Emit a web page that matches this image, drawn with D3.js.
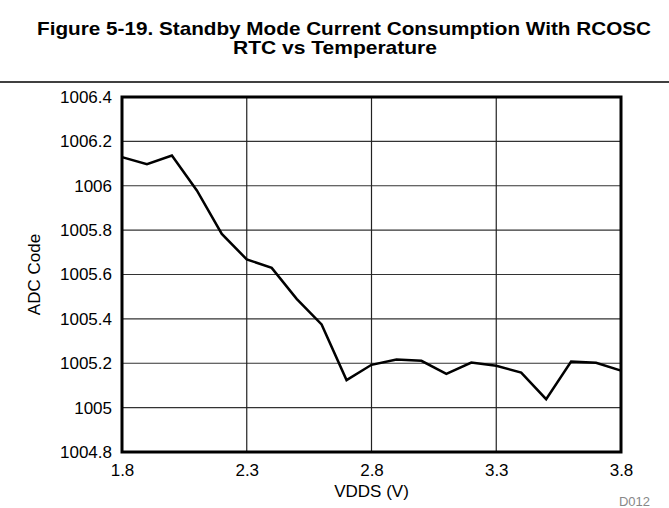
<!DOCTYPE html>
<html>
<head>
<meta charset="utf-8">
<script src="https://cdn.jsdelivr.net/npm/d3@7"></script>
<style>
  body { margin: 0; background: #fff; }
  svg { display: block; font-family: "Liberation Sans", Arial, sans-serif; }
</style>
</head>
<body>
<svg></svg>
<script>
var vdds = [1.8, 1.9, 2.0, 2.1, 2.2, 2.3, 2.4, 2.5, 2.6, 2.7, 2.8, 2.9, 3.0, 3.1, 3.2, 3.3, 3.4, 3.5, 3.6, 3.7, 3.8];
var adcCode = [1006.129, 1006.097, 1006.136, 1005.979, 1005.783, 1005.668, 1005.630, 1005.490, 1005.375, 1005.124,
               1005.193, 1005.217, 1005.211, 1005.152, 1005.203, 1005.189, 1005.158, 1005.038, 1005.208, 1005.202, 1005.167];
var xTicks = [1.8, 2.3, 2.8, 3.3, 3.8];
var yTicks = [1004.8, 1005, 1005.2, 1005.4, 1005.6, 1005.8, 1006, 1006.2, 1006.4];

var width = 669;
var height = 508;
var margin = {top: 97, right: 48, bottom: 56, left: 122};

var svg = d3.select('svg')
    .attr('width', width)
    .attr('height', height);

// title, two lines (narrow and tall like the original)
svg.append('text')
    .attr('x', 344).attr('y', 35)
    .attr('text-anchor', 'middle')
    .attr('font-size', 19).attr('font-weight', 'bold')
    .attr('textLength', 614).attr('lengthAdjust', 'spacingAndGlyphs')
    .text('Figure 5-19. Standby Mode Current Consumption With RCOSC');
svg.append('text')
    .attr('x', 335).attr('y', 54)
    .attr('text-anchor', 'middle')
    .attr('font-size', 19).attr('font-weight', 'bold')
    .attr('textLength', 204).attr('lengthAdjust', 'spacingAndGlyphs')
    .text('RTC vs Temperature');

svg.append('line')
    .attr('x1', 0).attr('x2', width)
    .attr('y1', 82).attr('y2', 82)
    .attr('stroke', '#000').attr('stroke-width', 1.5);

var x = d3.scaleLinear()
    .domain([1.8, 3.8])
    .range([margin.left, width - margin.right]);
var y = d3.scaleLinear()
    .domain([1004.8, 1006.4])
    .range([height - margin.bottom, margin.top]);

// grid lines
svg.append('g')
  .selectAll('line')
  .data(yTicks)
  .enter()
  .append('line')
    .attr('x1', x(1.8)).attr('x2', x(3.8))
    .attr('y1', d => y(d)).attr('y2', d => y(d))
    .attr('stroke', '#333').attr('stroke-width', 1.2);
svg.append('g')
  .selectAll('line')
  .data(xTicks)
  .enter()
  .append('line')
    .attr('x1', d => x(d)).attr('x2', d => x(d))
    .attr('y1', y(1004.8)).attr('y2', y(1006.4))
    .attr('stroke', '#222').attr('stroke-width', 1.2);

// axes, only used for the labels
var yAxis = svg.append('g')
    .attr('transform', 'translate(' + x(1.8) + ',0)')
    .call(d3.axisLeft(y).tickValues(yTicks).tickSize(0).tickPadding(10).tickFormat(d3.format('')));
var xAxis = svg.append('g')
    .attr('transform', 'translate(0,' + y(1004.8) + ')')
    .call(d3.axisBottom(x).tickValues(xTicks).tickSize(0).tickPadding(12).tickFormat(d3.format('')));
[yAxis, xAxis].forEach(function(a) {
    a.select('.domain').remove();
    a.selectAll('text').attr('font-size', 17).attr('font-family', '"Liberation Sans", Arial, sans-serif').attr('fill', '#000');
});

// the data line
var line = d3.line()
    .x((d, i) => x(vdds[i]))
    .y(d => y(d));
svg.append('path')
    .datum(adcCode)
    .attr('fill', 'none')
    .attr('stroke', '#000')
    .attr('stroke-width', 2.5)
    .attr('stroke-linejoin', 'miter')
    .attr('d', line);

// plot frame
svg.append('rect')
    .attr('x', x(1.8)).attr('y', y(1006.4))
    .attr('width', x(3.8) - x(1.8))
    .attr('height', y(1004.8) - y(1006.4))
    .attr('fill', 'none')
    .attr('stroke', '#000')
    .attr('stroke-width', 3);

// axis titles
svg.append('text')
    .attr('transform', 'translate(40,' + (y(1005.6)) + ') rotate(-90)')
    .attr('text-anchor', 'middle')
    .attr('font-size', 17)
    .text('ADC Code');
svg.append('text')
    .attr('x', (x(1.8) + x(3.8)) / 2).attr('y', 497)
    .attr('text-anchor', 'middle')
    .attr('font-size', 17)
    .text('VDDS (V)');
svg.append('text')
    .attr('x', 650).attr('y', 506)
    .attr('text-anchor', 'end')
    .attr('font-size', 13)
    .attr('fill', '#888')
    .text('D012');
</script>
</body>
</html>
